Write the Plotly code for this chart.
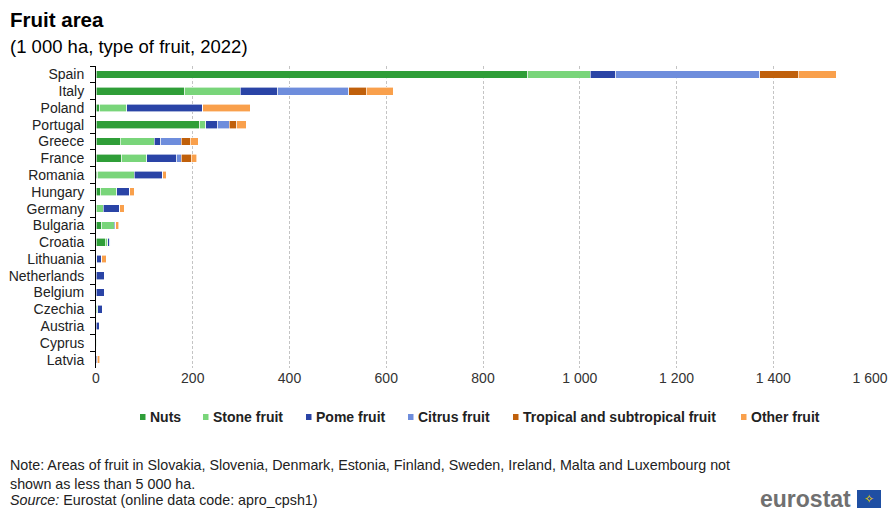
import plotly.graph_objects as go

countries = ["Spain", "Italy", "Poland", "Portugal", "Greece", "France", "Romania", "Hungary",
             "Germany", "Bulgaria", "Croatia", "Lithuania", "Netherlands", "Belgium", "Czechia",
             "Austria", "Cyprus", "Latvia"]
nuts =      [893, 183,   8, 214, 50, 53,  4, 10,  1, 12, 19, 1,  0,  0, 1, 0, 2, 0]
stone =     [129, 115,  56,  13, 70, 52, 75, 33, 14, 26,  5, 1,  1,  1, 3, 1, 1, 0]
pome =      [ 52,  78, 157,  25, 14, 62, 59, 27, 34,  2,  4, 10, 17, 17, 10, 6, 0, 3]
citrus =    [298, 146,   0,  23, 42,  9,  0,  0,  0,  1,  2, 0,  0,  0, 0, 0, 0, 0]
tropical =  [ 80,  37,   0,  16, 19, 21,  0,  0,  0,  0,  0, 0,  0,  0, 0, 0, 0, 0]
other =     [ 78,  55,  98,  20, 16, 11,  7,  9,  9,  6,  0, 9,  0,  0, 0, 0, 0, 5]

series_names = ["Nuts", "Stone fruit", "Pome fruit", "Citrus fruit",
                "Tropical and subtropical fruit", "Other fruit"]
series_values = [nuts, stone, pome, citrus, tropical, other]
series_colors = ["#2f9e38", "#79d57a", "#2a44a6", "#6e8ddc", "#c0600b", "#f9a04c"]

FONT = "Liberation Sans, Arial, sans-serif"

# Page body has an 8px margin; work in reference pixel coords and shift by 8.
OFF = 8
W, H = 896 - OFF, 516 - OFF
pl, pr, pt, pb = 96 - OFF, 26, 66 - OFF, 148
pw, ph = W - pl - pr, H - pt - pb


def px(x):
    return (x - OFF - pl) / pw


def py(y):
    return 1 - (y - OFF - pt) / ph


fig = go.Figure()
for name, vals, col in zip(series_names, series_values, series_colors):
    fig.add_trace(go.Bar(
        y=countries, x=vals, name=name, orientation="h",
        marker=dict(color=col, line=dict(color="white", width=0.6)),
        showlegend=False,
    ))

fig.update_layout(
    barmode="stack",
    bargap=0.54,
    width=W, height=H,
    paper_bgcolor="white", plot_bgcolor="white",
    margin=dict(l=pl, r=pr, t=pt, b=pb, autoexpand=False),
    font=dict(family=FONT, size=14, color="#222"),
    separators=". ",
    showlegend=False,
    xaxis=dict(range=[0, 1600], tickvals=[0, 200, 400, 600, 800, 1000, 1200, 1400, 1600],
               tickformat=",d", showgrid=True, gridcolor="#c4c4c4", griddash="3px,2px",
               gridwidth=1, zeroline=False, showline=False, ticks="",
               tickfont=dict(size=14, color="#333")),
    yaxis=dict(autorange="reversed", showline=True, linecolor="#000", linewidth=1,
               tickmode="linear", tick0=0, dtick=1,
               ticks="outside", tickson="boundaries", ticklen=5, tickcolor="#000",
               ticklabelstandoff=8,
               tickfont=dict(size=14, color="#222"), showgrid=False),
)

fig.add_annotation(text="<b>Fruit area</b>", xref="paper", yref="paper", x=px(8), y=py(20),
                   xanchor="left", yanchor="middle", showarrow=False,
                   font=dict(size=20.5, color="#000"))
fig.add_annotation(text="(1 000 ha, type of fruit, 2022)", xref="paper", yref="paper",
                   x=px(8), y=py(46), xanchor="left", yanchor="middle", showarrow=False,
                   font=dict(size=18.5, color="#000"))

# Legend (custom, to match reference spacing)
legend_x = [140, 203, 306, 408, 513, 741]
legend_y = 417
for name, col, lx in zip(series_names, series_colors, legend_x):
    fig.add_shape(type="rect", xref="paper", yref="paper",
                  x0=px(lx), x1=px(lx + 5.5), y0=py(legend_y + 3), y1=py(legend_y - 3),
                  fillcolor=col, line=dict(width=0))
    fig.add_annotation(text="<b>" + name + "</b>", xref="paper", yref="paper",
                       x=px(lx + 8), y=py(legend_y), xanchor="left", yanchor="middle",
                       showarrow=False, font=dict(size=14, color="#222"))

fig.add_annotation(text="Note: Areas of fruit in Slovakia, Slovenia, Denmark, Estonia, Finland, Sweden, Ireland, Malta and Luxembourg not<br>shown as less than 5 000 ha.",
                   xref="paper", yref="paper", x=px(8), y=py(474), xanchor="left", yanchor="middle",
                   align="left", showarrow=False, font=dict(size=14.3, color="#222"))
fig.add_annotation(text="<i>Source:</i> Eurostat (online data code: apro_cpsh1)",
                   xref="paper", yref="paper", x=px(8), y=py(500), xanchor="left", yanchor="middle",
                   align="left", showarrow=False, font=dict(size=14.3, color="#222"))
fig.add_annotation(text="<b>eurostat</b>", xref="paper", yref="paper", x=px(853), y=py(499),
                   xanchor="right", yanchor="middle", showarrow=False,
                   font=dict(size=23, color="#707070"))
fig.add_shape(type="rect", xref="paper", yref="paper", x0=px(857), x1=px(881), y0=py(508), y1=py(490),
              fillcolor="#1f4fa3", line=dict(width=0))
fig.add_annotation(text="✧", xref="paper", yref="paper", x=px(869), y=py(499),
                   xanchor="center", yanchor="middle", showarrow=False,
                   font=dict(size=12, color="#f5d300"))

fig.write_html("out.html")
